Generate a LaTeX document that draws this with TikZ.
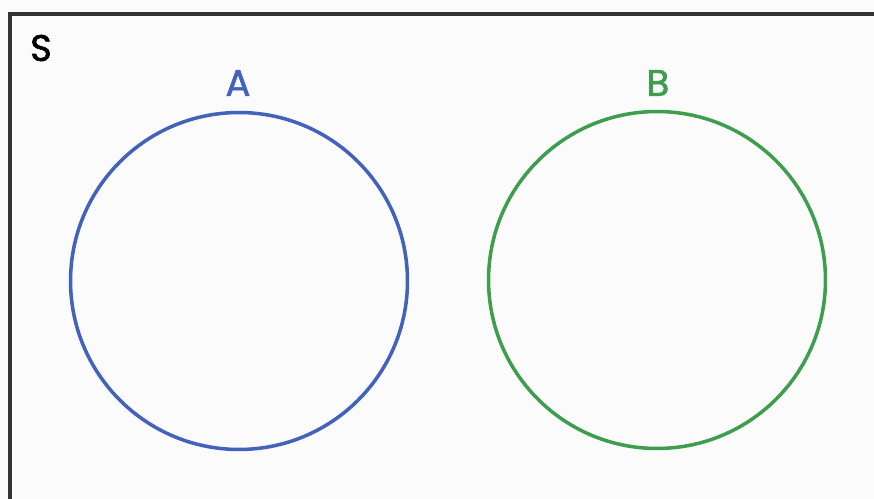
\documentclass[tikz,border=0pt]{standalone}
\usepackage{fontspec}
\setmainfont{Poppins}
\newfontfamily\lblfont{Poppins}[FakeBold=1.6]
\definecolor{frame}{HTML}{333333}
\definecolor{setA}{HTML}{4262BC}
\definecolor{setB}{HTML}{3E9E4E}
\definecolor{bg}{HTML}{FBFBFB}
\begin{document}
\begin{tikzpicture}[x=0.02cm,y=-0.02cm,
  setcircle/.style={circle, draw, line width=2pt, minimum size=6.74cm, inner sep=0pt},
  lbl/.style={inner sep=0pt, font=\lblfont\fontsize{21}{21}\selectfont}]
\useasboundingbox (0,0) rectangle (874,499);
\fill[bg] (0,0) rectangle (874,499);
\coordinate (tl) at (10,14);
\coordinate (tr) at (874,14);
\coordinate (bl) at (10,499);
\draw[frame, line width=2.2pt] (bl) -- (tl) -- (tr);
\node[lbl, text=black] (S) at (41,48) {S};
\node[setcircle, draw=setA] (A) at (239,281) {};
\node[setcircle, draw=setB] (B) at (657,280) {};
\node[lbl, text=setA] (la) at (238,83) {A};
\node[lbl, text=setB] (lb) at (658,83) {B};
\end{tikzpicture}
\end{document}
